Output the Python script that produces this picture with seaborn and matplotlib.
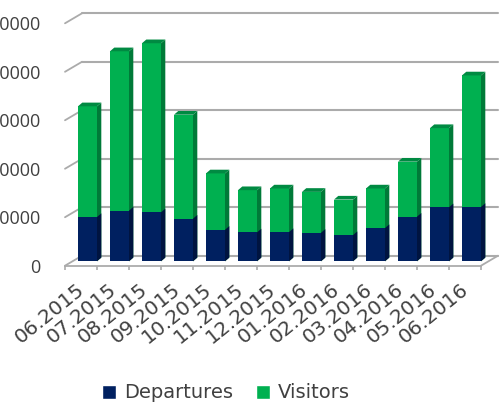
import matplotlib
matplotlib.use("Agg")
import matplotlib.pyplot as plt
from matplotlib.patches import Polygon, Patch
from matplotlib.transforms import Affine2D
import seaborn as sns
import pandas as pd

months = ["06.2015", "07.2015", "08.2015", "09.2015", "10.2015", "11.2015", "12.2015",
          "01.2016", "02.2016", "03.2016", "04.2016", "05.2016", "06.2016"]
departures = [9130, 10450, 10100, 8790, 6500, 5950, 6020, 5880, 5400, 6850, 9200, 11140, 11210]
visitors = [22840, 32870, 34880, 21450, 11630, 8720, 9000, 8440, 7330, 8170, 11350, 16330, 27130]
y_ticks = [0, 10000, 20000, 30000, 40000, 50000]

NAVY, GREEN = "#002060", "#00B050"
NAVY_SIDE, GREEN_SIDE = "#001440", "#007A38"
GRID = "#ababab"
TEXT = "#404040"

W, H = 502, 403
fig = plt.figure(figsize=(W / 100, H / 100), dpi=100)
sns.set_style("white")
L, R, B, T = 65, 481, 265.7, 23.3
ax = fig.add_axes([L / W, (H - B) / H, (R - L) / W, (B - T) / H])
ax.patch.set_alpha(0)

df = pd.DataFrame({"month": months, "Departures": departures, "Visitors": visitors})
df["Total"] = df["Departures"] + df["Visitors"]

sns.barplot(data=df, x="month", y="Total", color=GREEN, saturation=1, width=0.594, ax=ax, zorder=3)
n_green = len(ax.patches)
sns.barplot(data=df, x="month", y="Departures", color=NAVY, saturation=1, width=0.594, ax=ax, zorder=3)

ax.set_xlim(-0.5, len(months) - 0.5)
ax.set_ylim(0, y_ticks[-1])

# pseudo-3D offsets, pixels
bar_shift = Affine2D().translate(6.5, 4.4)
depth_x, depth_y = 4.3, 3.7
wall_x, wall_y = 17, 10
bar_tf = ax.transData + bar_shift
wall = ax.transData + Affine2D().translate(wall_x, wall_y)

# back wall grid and side wall diagonals
x0, x1 = -0.5, len(months) - 0.5
for v in y_ticks:
    ax.plot([x0, x1], [v, v], color=GRID, lw=1.5, transform=wall, zorder=1, clip_on=False)
    ax.annotate("", xy=(x0, v), xycoords=ax.transData, xytext=(wall_x, wall_y), textcoords="offset pixels",
                arrowprops=dict(arrowstyle="-", color=GRID, lw=1.3, shrinkA=0, shrinkB=0), zorder=1)
ax.annotate("", xy=(x1, 0), xycoords=ax.transData, xytext=(wall_x, wall_y), textcoords="offset pixels",
            arrowprops=dict(arrowstyle="-", color=GRID, lw=1.3, shrinkA=0, shrinkB=0), zorder=1)

# convert pixel depth into data units for side and top faces
ux = (x1 - x0) / (R - L)
uy = y_ticks[-1] / (B - T)
patches = list(ax.patches)
for i, p in enumerate(patches):
    xa, xb = p.get_x(), p.get_x() + p.get_width()
    top = p.get_height()
    side_col = GREEN_SIDE if i < n_green else NAVY_SIDE
    dx, dy = depth_x * ux, depth_y * uy
    side = [(xb, 0), (xb + dx, dy), (xb + dx, top + dy), (xb, top)]
    ax.add_patch(Polygon(side, closed=True, fc=side_col, ec="none", transform=bar_tf,
                         zorder=2.9 if i < n_green else 3.1, clip_on=False))
    if i < n_green:
        lid = [(xa, top), (xa + dx, top + dy), (xb + dx, top + dy), (xb, top)]
        ax.add_patch(Polygon(lid, closed=True, fc="#008A42", ec="none", transform=bar_tf,
                             zorder=3.1, clip_on=False))
    p.set_transform(bar_tf)
    p.set_clip_on(False)
    p.set_zorder(3.2 if i >= n_green else 3.0)
    p.set_edgecolor("none")

for s in ["top", "right", "left"]:
    ax.spines[s].set_visible(False)
ax.spines["bottom"].set_color(GRID)
ax.spines["bottom"].set_linewidth(1.3)

ax.set_xlabel("")
ax.set_ylabel("")
ax.set_yticks(y_ticks)
ax.set_yticklabels([str(v) for v in y_ticks], fontsize=13, family="Open Sans", color=TEXT)
ax.tick_params(axis="y", length=0, pad=17.5)
ax.set_xticks([k - 0.17 for k in range(len(months))])
ax.set_xticklabels(months, rotation=39, ha="right", rotation_mode="anchor",
                   fontsize=14.5, family="DejaVu Sans", color=TEXT)
ax.set_xticks([k - 0.5 for k in range(len(months) + 1)], minor=True)
ax.tick_params(axis="x", which="major", length=0, pad=10)
ax.tick_params(axis="x", which="minor", length=3, width=1.2, color=GRID, bottom=True)

leg = fig.legend(handles=[Patch(fc=NAVY, label="Departures"), Patch(fc=GREEN, label="Visitors")],
                 loc="center", bbox_to_anchor=(226 / W, (H - 393) / H), ncol=2, frameon=False,
                 handlelength=0.72, handleheight=0.72, handletextpad=0.45, columnspacing=1.14,
                 prop={"family": "DejaVu Sans", "size": 14}, labelcolor=TEXT)

fig.savefig("out.png", dpi=100)
